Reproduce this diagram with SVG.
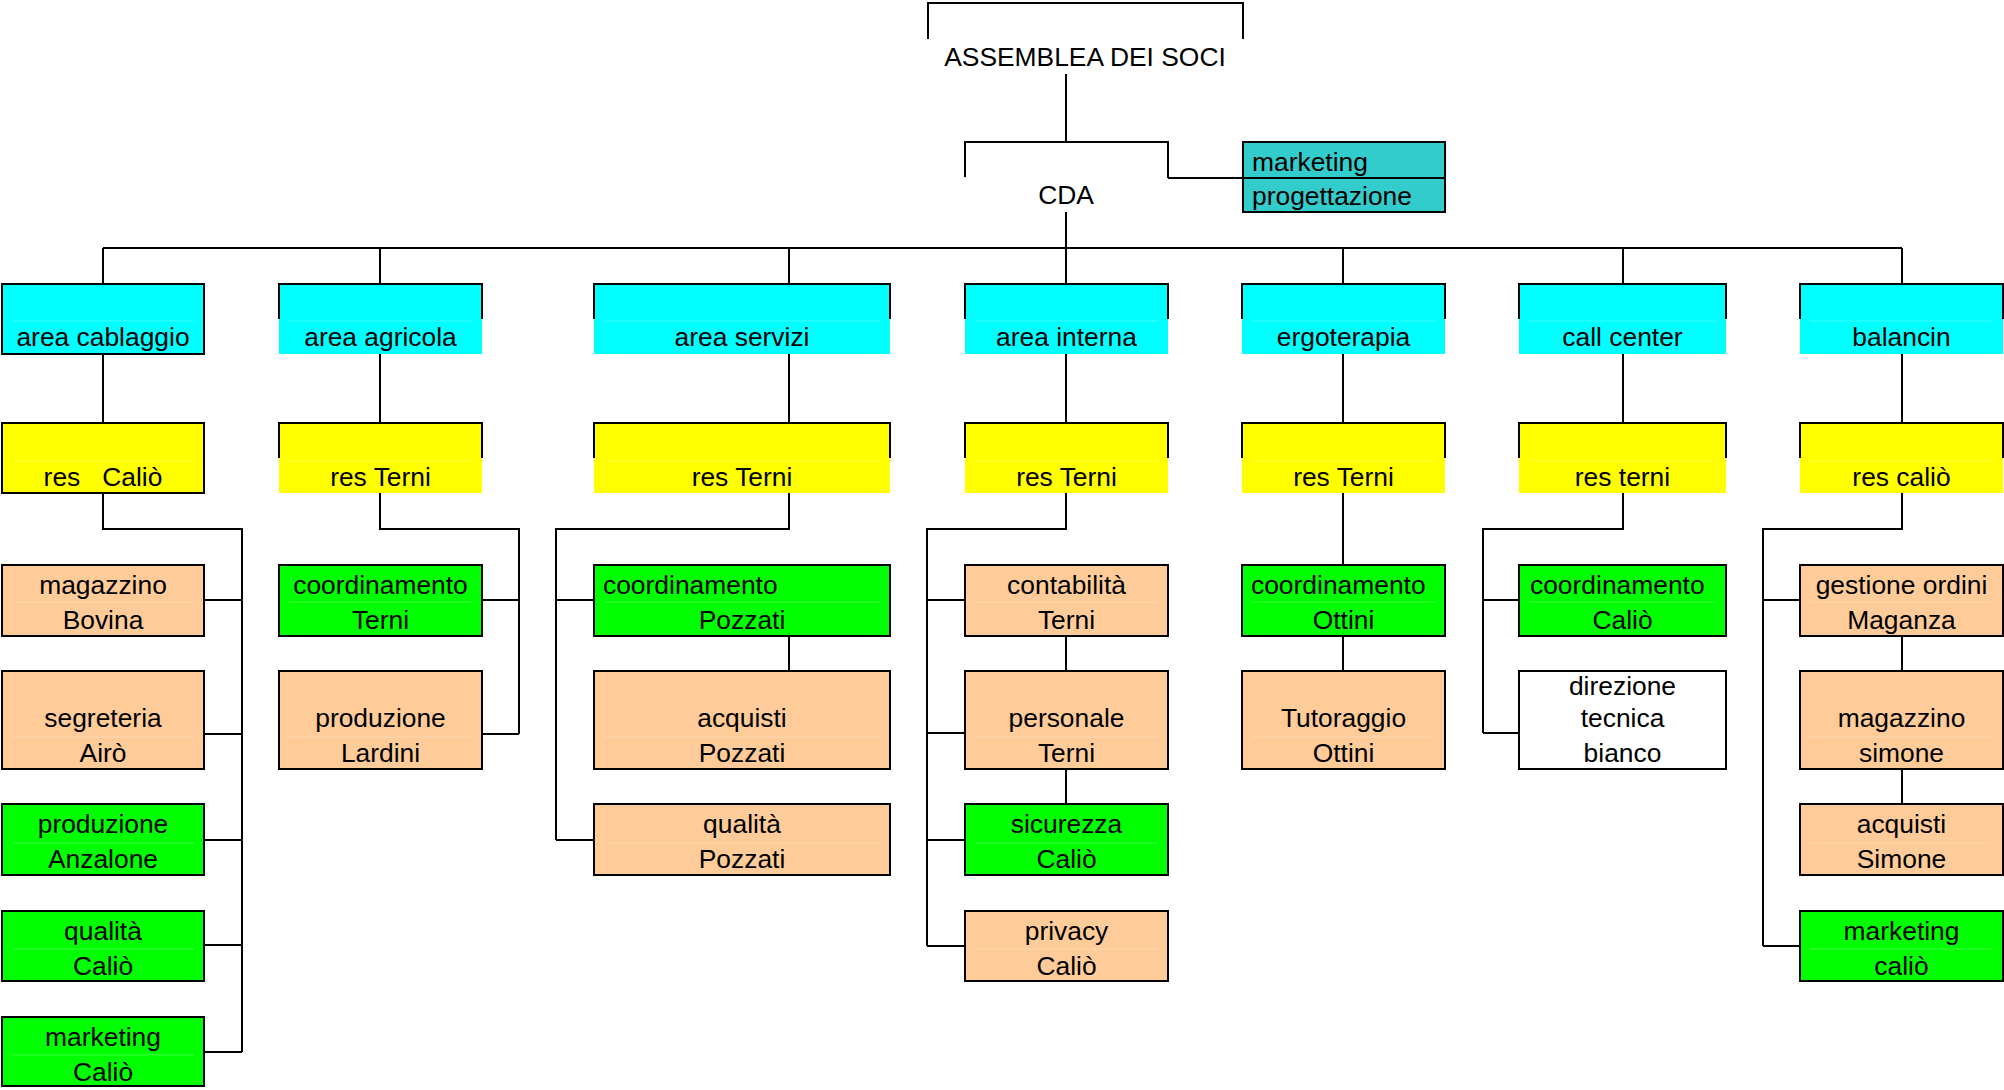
<svg xmlns="http://www.w3.org/2000/svg" width="2004" height="1090" viewBox="0 0 2004 1090">
<style>
text{font-family:"Liberation Sans",Arial,sans-serif;font-size:26.4px;fill:#000;text-anchor:middle;white-space:pre}
.l{text-anchor:start}
.b{stroke:#000;stroke-width:2;fill:none}
.cy{fill:#00FFFF}.ye{fill:#FFFF00}.pe{fill:#FFCC99}.gr{fill:#00FF00}.wh{fill:#FFFFFF}.tl{fill:#33CCCC}
.sep{stroke:#FFFFFF;stroke-opacity:0.25;stroke-width:1;fill:none}
.c{stroke:#000;stroke-width:2;fill:none}
</style>
<rect width="2004" height="1090" fill="#fff"/>
<g id="connectors">
<path class="c" d="M1066,74V142M1168,178H1243M1066,212V248M103,248H1902"/>
<path class="c" d="M103,248V284M380,248V284M789,248V284M1066,248V284M1343,248V284M1623,248V284M1902,248V284"/>
<path class="c" d="M103,354V423M380,354V423M789,354V423M1066,354V423M1343,354V423M1623,354V423M1902,354V423"/>
<path class="c" d="M103,493V529H242V1052M204,600H242M204,734H242M204,840H242M204,945H242M204,1052H242"/>
<path class="c" d="M380,493V529H519V734M482,600H519M482,734H519"/>
<path class="c" d="M789,493V529H556V840M556,600H594M556,840H594M789,636V671"/>
<path class="c" d="M1066,493V529H927V946M927,600H965M927,733H965M927,840H965M927,946H965M1066,636V671M1066,769V804"/>
<path class="c" d="M1343,493V565M1343,636V671"/>
<path class="c" d="M1623,493V529H1483V733M1483,600H1519M1483,733H1519"/>
<path class="c" d="M1902,493V529H1763V946M1763,600H1800M1763,946H1800M1902,636V671M1902,769V804"/>
</g>
<g id="assemblea">
<path class="b" d="M928,39V3H1243V39"/>
<text x="1085" y="66">ASSEMBLEA DEI SOCI</text>
</g>
<g id="cda">
<path class="b" d="M965,177V142H1168V178"/>
<text x="1066" y="204">CDA</text>
</g>
<g id="marketing-progettazione">
<rect class="tl" x="1243" y="142" width="202" height="70"/>
<path class="b" d="M1243,142H1445V212H1243ZM1243,178H1445"/>
<text class="l" x="1252" y="171">marketing</text>
<text class="l" x="1252" y="205">progettazione</text>
</g>
<!-- Level 1 -->
<g id="area-cablaggio">
<rect class="cy" x="2" y="284" width="202" height="70"/>
<path class="sep" d="M12,321H194"/>
<rect class="b" x="2" y="284" width="202" height="70"/>
<text x="103" y="346">area cablaggio</text>
</g>
<g id="area-agricola">
<rect class="cy" x="279" y="284" width="203" height="70"/>
<path class="sep" d="M289,321H472"/>
<path class="b" d="M279,319V284H482V319"/>
<text x="380.5" y="346">area agricola</text>
</g>
<g id="area-servizi">
<rect class="cy" x="594" y="284" width="296" height="70"/>
<path class="sep" d="M604,321H880"/>
<path class="b" d="M594,319V284H890V319"/>
<text x="742" y="346">area servizi</text>
</g>
<g id="area-interna">
<rect class="cy" x="965" y="284" width="203" height="70"/>
<path class="sep" d="M975,321H1158"/>
<path class="b" d="M965,319V284H1168V319"/>
<text x="1066.5" y="346">area interna</text>
</g>
<g id="ergoterapia">
<rect class="cy" x="1242" y="284" width="203" height="70"/>
<path class="sep" d="M1252,321H1435"/>
<path class="b" d="M1242,319V284H1445V319"/>
<text x="1343.5" y="346">ergoterapia</text>
</g>
<g id="call-center">
<rect class="cy" x="1519" y="284" width="207" height="70"/>
<path class="sep" d="M1529,321H1716"/>
<path class="b" d="M1519,319V284H1726V319"/>
<text x="1622.5" y="346">call center</text>
</g>
<g id="balancin">
<rect class="cy" x="1800" y="284" width="203" height="70"/>
<path class="sep" d="M1810,321H1993"/>
<path class="b" d="M1800,319V284H2003V319"/>
<text x="1901.5" y="346">balancin</text>
</g>
<!-- Level 2 -->
<g id="res-calio-1">
<rect class="ye" x="2" y="423" width="202" height="70"/>
<path class="sep" d="M12,461H194"/>
<rect class="b" x="2" y="423" width="202" height="70"/>
<text x="103" y="486">res   Caliò</text>
</g>
<g id="res-terni-2">
<rect class="ye" x="279" y="423" width="203" height="70"/>
<path class="sep" d="M289,461H472"/>
<path class="b" d="M279,458V423H482V458"/>
<text x="380.5" y="486">res Terni</text>
</g>
<g id="res-terni-3">
<rect class="ye" x="594" y="423" width="296" height="70"/>
<path class="sep" d="M604,461H880"/>
<path class="b" d="M594,458V423H890V458"/>
<text x="742" y="486">res Terni</text>
</g>
<g id="res-terni-4">
<rect class="ye" x="965" y="423" width="203" height="70"/>
<path class="sep" d="M975,461H1158"/>
<path class="b" d="M965,458V423H1168V458"/>
<text x="1066.5" y="486">res Terni</text>
</g>
<g id="res-terni-5">
<rect class="ye" x="1242" y="423" width="203" height="70"/>
<path class="sep" d="M1252,461H1435"/>
<path class="b" d="M1242,458V423H1445V458"/>
<text x="1343.5" y="486">res Terni</text>
</g>
<g id="res-terni-6">
<rect class="ye" x="1519" y="423" width="207" height="70"/>
<path class="sep" d="M1529,461H1716"/>
<path class="b" d="M1519,458V423H1726V458"/>
<text x="1622.5" y="486">res terni</text>
</g>
<g id="res-calio-7">
<rect class="ye" x="1800" y="423" width="203" height="70"/>
<path class="sep" d="M1810,461H1993"/>
<path class="b" d="M1800,458V423H2003V458"/>
<text x="1901.5" y="486">res caliò</text>
</g>
<!-- Column 1 -->
<g id="magazzino-bovina">
<rect class="b" x="2" y="565" width="202" height="71" style="fill:#FFCC99"/>
<path class="sep" d="M12,602H194"/>
<text x="103" y="594">magazzino</text><text x="103" y="629">Bovina</text>
</g>
<g id="segreteria-airo">
<rect class="b" x="2" y="671" width="202" height="98" style="fill:#FFCC99"/>
<path class="sep" d="M12,737H194"/>
<text x="103" y="727">segreteria</text><text x="103" y="762">Airò</text>
</g>
<g id="produzione-anzalone">
<rect class="b" x="2" y="804" width="202" height="71" style="fill:#00FF00"/>
<path class="sep" d="M12,843H194"/>
<text x="103" y="833">produzione</text><text x="103" y="868">Anzalone</text>
</g>
<g id="qualita-calio-1">
<rect class="b" x="2" y="911" width="202" height="70" style="fill:#00FF00"/>
<path class="sep" d="M12,949H194"/>
<text x="103" y="940">qualità</text><text x="103" y="975">Caliò</text>
</g>
<g id="marketing-calio-1">
<rect class="b" x="2" y="1017" width="202" height="69" style="fill:#00FF00"/>
<path class="sep" d="M12,1055H194"/>
<text x="103" y="1046">marketing</text><text x="103" y="1081">Caliò</text>
</g>
<!-- Column 2 -->
<g id="coordinamento-terni">
<rect class="b" x="279" y="565" width="203" height="71" style="fill:#00FF00"/>
<path class="sep" d="M289,602H472"/>
<text x="380.5" y="594">coordinamento</text><text x="380.5" y="629">Terni</text>
</g>
<g id="produzione-lardini">
<rect class="b" x="279" y="671" width="203" height="98" style="fill:#FFCC99"/>
<path class="sep" d="M289,737H472"/>
<text x="380.5" y="727">produzione</text><text x="380.5" y="762">Lardini</text>
</g>
<!-- Column 3 -->
<g id="coordinamento-pozzati">
<rect class="b" x="594" y="565" width="296" height="71" style="fill:#00FF00"/>
<path class="sep" d="M604,602H880"/>
<text class="l" x="603" y="594">coordinamento</text><text x="742" y="629">Pozzati</text>
</g>
<g id="acquisti-pozzati">
<rect class="b" x="594" y="671" width="296" height="98" style="fill:#FFCC99"/>
<path class="sep" d="M604,737H880"/>
<text x="742" y="727">acquisti</text><text x="742" y="762">Pozzati</text>
</g>
<g id="qualita-pozzati">
<rect class="b" x="594" y="804" width="296" height="71" style="fill:#FFCC99"/>
<path class="sep" d="M604,843H880"/>
<text x="742" y="833">qualità</text><text x="742" y="868">Pozzati</text>
</g>
<!-- Column 4 -->
<g id="contabilita-terni">
<rect class="b" x="965" y="565" width="203" height="71" style="fill:#FFCC99"/>
<path class="sep" d="M975,602H1158"/>
<text x="1066.5" y="594">contabilità</text><text x="1066.5" y="629">Terni</text>
</g>
<g id="personale-terni">
<rect class="b" x="965" y="671" width="203" height="98" style="fill:#FFCC99"/>
<path class="sep" d="M975,737H1158"/>
<text x="1066.5" y="727">personale</text><text x="1066.5" y="762">Terni</text>
</g>
<g id="sicurezza-calio">
<rect class="b" x="965" y="804" width="203" height="71" style="fill:#00FF00"/>
<path class="sep" d="M975,843H1158"/>
<text x="1066.5" y="833">sicurezza</text><text x="1066.5" y="868">Caliò</text>
</g>
<g id="privacy-calio">
<rect class="b" x="965" y="911" width="203" height="70" style="fill:#FFCC99"/>
<path class="sep" d="M975,949H1158"/>
<text x="1066.5" y="940">privacy</text><text x="1066.5" y="975">Caliò</text>
</g>
<!-- Column 5 -->
<g id="coordinamento-ottini">
<rect class="b" x="1242" y="565" width="203" height="71" style="fill:#00FF00"/>
<path class="sep" d="M1252,602H1435"/>
<text class="l" x="1251" y="594">coordinamento</text><text x="1343.5" y="629">Ottini</text>
</g>
<g id="tutoraggio-ottini">
<rect class="b" x="1242" y="671" width="203" height="98" style="fill:#FFCC99"/>
<path class="sep" d="M1252,737H1435"/>
<text x="1343.5" y="727">Tutoraggio</text><text x="1343.5" y="762">Ottini</text>
</g>
<!-- Column 6 -->
<g id="coordinamento-calio">
<rect class="b" x="1519" y="565" width="207" height="71" style="fill:#00FF00"/>
<path class="sep" d="M1529,602H1716"/>
<text class="l" x="1530" y="594">coordinamento</text><text x="1622.5" y="629">Caliò</text>
</g>
<g id="direzione-tecnica-bianco">
<rect class="b" x="1519" y="671" width="207" height="98" style="fill:#FFFFFF"/>
<text x="1622.5" y="695">direzione</text><text x="1622.5" y="727">tecnica</text><text x="1622.5" y="762">bianco</text>
</g>
<!-- Column 7 -->
<g id="gestione-ordini-maganza">
<rect class="b" x="1800" y="565" width="203" height="71" style="fill:#FFCC99"/>
<path class="sep" d="M1810,602H1993"/>
<text x="1901.5" y="594">gestione ordini</text><text x="1901.5" y="629">Maganza</text>
</g>
<g id="magazzino-simone">
<rect class="b" x="1800" y="671" width="203" height="98" style="fill:#FFCC99"/>
<path class="sep" d="M1810,737H1993"/>
<text x="1901.5" y="727">magazzino</text><text x="1901.5" y="762">simone</text>
</g>
<g id="acquisti-simone">
<rect class="b" x="1800" y="804" width="203" height="71" style="fill:#FFCC99"/>
<path class="sep" d="M1810,843H1993"/>
<text x="1901.5" y="833">acquisti</text><text x="1901.5" y="868">Simone</text>
</g>
<g id="marketing-calio-7">
<rect class="b" x="1800" y="911" width="203" height="70" style="fill:#00FF00"/>
<path class="sep" d="M1810,949H1993"/>
<text x="1901.5" y="940">marketing</text><text x="1901.5" y="975">caliò</text>
</g>
</svg>
